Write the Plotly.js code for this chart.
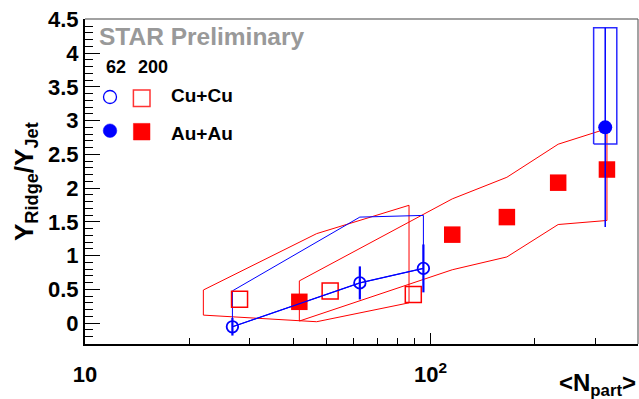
<!DOCTYPE html>
<html>
<head>
<meta charset="utf-8">
<script src="https://cdn.plot.ly/plotly-3.0.1.min.js"></script>
<style>html,body{margin:0;padding:0;background:#fff;}#chart{width:639px;height:399px;}</style>
</head>
<body>
<div id="chart"></div>
<script>
// ---- data ----
// Au+Au 200 GeV (filled red squares) with systematic band
const npartAuAu200 = [41.7, 115.5, 166.2, 233.9, 323.7];
const ratioAuAu200 = [0.315, 1.31, 1.57, 2.08, 2.275];
const sysHiAuAu200 = [0.625, 1.84, 2.16, 2.65, 2.88];
const sysLoAuAu200 = [0.03, 0.79, 0.98, 1.46, 1.52];

// Cu+Cu 200 GeV (open red squares) with systematic band
const npartCuCu200 = [28.0, 51.2, 89.1];
const ratioCuCu200 = [0.352, 0.475, 0.425];
const bandNpartCuCu200 = [22.0, 46.8, 86.6];
const sysHiCuCu200 = [0.49, 1.325, 1.745];
const sysLoCuCu200 = [0.118, 0.02, 0.30];

// Cu+Cu 62 GeV (open blue circles) with systematic band
const npartCuCu62 = [26.7, 62.4, 95.3];
const ratioCuCu62 = [-0.055, 0.595, 0.81];
const errCuCu62 = [0.13, 0.245, 0.355];
const sysHiCuCu62 = [0.477, 1.57, 1.595];

// Au+Au 62 GeV (filled blue circle) with systematic box
const npartAuAu62 = [320];
const ratioAuAu62 = [2.9];
const errAuAu62 = [1.475];
const sysLoAuAu62 = [2.654];
const sysHiAuAu62 = [4.377];

const xTickVals = [10, 100];
const xTickText = ['10', '10<sup>2</sup>'];
const xMinorVals = [20, 30, 40, 50, 60, 70, 80, 90, 200, 300];

// ---- helpers ----
function polygon(xs, hi, lo) {
  const x = xs.concat(xs.slice().reverse(), [xs[0]]);
  const y = hi.concat(lo.slice().reverse(), [hi[0]]);
  return {x, y};
}
const BOX_HALF_DEC = 0.0335; // box half-width in decades (style)

const RED = '#ff0000', BLUE = '#0000ff';
const FONT = 'Liberation Sans, Arial, Helvetica, sans-serif';

const pAuAu200 = polygon(npartAuAu200, sysHiAuAu200, sysLoAuAu200);
const pCuCu200 = polygon(bandNpartCuCu200, sysHiCuCu200, sysLoCuCu200);
const pCuCu62 = polygon(npartCuCu62, sysHiCuCu62, ratioCuCu62);

const boxX = [], boxY = [];
npartAuAu62.forEach((x, i) => {
  const xl = x * Math.pow(10, -BOX_HALF_DEC), xr = x * Math.pow(10, BOX_HALF_DEC);
  boxX.push(xl, xr, xr, xl, xl);
  boxY.push(sysLoAuAu62[i], sysLoAuAu62[i], sysHiAuAu62[i], sysHiAuAu62[i], sysLoAuAu62[i]);
});

const traces = [
  {x: pCuCu200.x, y: pCuCu200.y, mode: 'lines', line: {color: RED, width: 1}, hoverinfo: 'skip'},
  {x: pAuAu200.x, y: pAuAu200.y, mode: 'lines', line: {color: RED, width: 1}, hoverinfo: 'skip'},
  {x: pCuCu62.x, y: pCuCu62.y, mode: 'lines', line: {color: BLUE, width: 1}, hoverinfo: 'skip'},
  {x: boxX, y: boxY, mode: 'lines', line: {color: '#2a2aff', width: 1.5}, hoverinfo: 'skip'},
  {x: npartCuCu200, y: ratioCuCu200, mode: 'markers', name: 'Cu+Cu 200',
   marker: {symbol: 'square-open', size: 16, color: RED, line: {color: RED, width: 1.5}}},
  {x: npartAuAu200, y: ratioAuAu200, mode: 'markers', name: 'Au+Au 200',
   marker: {symbol: 'square', size: 16.5, color: RED, line: {width: 0}}},
  {x: npartCuCu62, y: ratioCuCu62, mode: 'lines+markers', name: 'Cu+Cu 62',
   line: {color: BLUE, width: 1.2},
   error_y: {type: 'data', array: errCuCu62, visible: true, color: BLUE, thickness: 2.2, width: 0},
   marker: {symbol: 'circle', size: 11.5, color: 'rgba(255,255,255,0)', line: {color: BLUE, width: 1.8}}},
  {x: npartAuAu62, y: ratioAuAu62, mode: 'markers', name: 'Au+Au 62',
   error_y: {type: 'data', array: errAuAu62, visible: true, color: BLUE, thickness: 1.5, width: 0},
   marker: {symbol: 'circle', size: 14, color: BLUE, line: {width: 0}}}
];

function pxX(px) { return (px - 85) / 553; }
function pxY(py) { return (344 - py) / 325; }

const bold = {family: FONT, weight: 'bold', color: '#000'};

const layout = {
  width: 639, height: 399,
  margin: {l: 85, r: 1, t: 19, b: 55},
  paper_bgcolor: '#fff', plot_bgcolor: '#fff',
  showlegend: false,
  xaxis: {
    type: 'log', range: [1, 2.6],
    tickmode: 'array', tickvals: xTickVals, ticktext: xTickText,
    ticks: 'inside', ticklen: 11, tickwidth: 1, tickcolor: '#000',
    showline: true, linecolor: '#000', linewidth: 2,
    showgrid: false, zeroline: false,
    tickfont: Object.assign({size: 22}, bold),
    ticklabelstandoff: 10,
    minor: {tickmode: 'array', tickvals: xMinorVals, ticks: 'inside', ticklen: 6, tickwidth: 1, tickcolor: '#000', showgrid: false}
  },
  yaxis: {
    range: [-0.31, 4.505], tick0: 0, dtick: 0.5,
    ticks: 'inside', ticklen: 15, tickwidth: 1, tickcolor: '#000',
    showline: true, linecolor: '#000', linewidth: 2,
    showgrid: false, zeroline: false,
    tickfont: Object.assign({size: 22}, bold),
    minor: {dtick: 0.1, ticks: 'inside', ticklen: 7.5, tickwidth: 1, tickcolor: '#000', showgrid: false}
  },
  shapes: [
    {type: 'line', xref: 'paper', yref: 'paper', x0: 0, x1: 1, y0: 1, y1: 1, line: {color: '#444', width: 1.2}},
    {type: 'line', xref: 'paper', yref: 'paper', x0: 1, x1: 1, y0: 0, y1: 1, line: {color: '#666', width: 1.2}},
    // legend symbols
    {type: 'circle', xref: 'paper', yref: 'paper', xsizemode: 'pixel', ysizemode: 'pixel',
     xanchor: pxX(110), yanchor: pxY(97), x0: -6.5, x1: 6.5, y0: -6.5, y1: 6.5,
     line: {color: BLUE, width: 1.3}},
    {type: 'rect', xref: 'paper', yref: 'paper', xsizemode: 'pixel', ysizemode: 'pixel',
     xanchor: pxX(141.7), yanchor: pxY(98.3), x0: -8.3, x1: 8.3, y0: -8.3, y1: 8.3,
     line: {color: '#ff3333', width: 1.5}},
    {type: 'circle', xref: 'paper', yref: 'paper', xsizemode: 'pixel', ysizemode: 'pixel',
     xanchor: pxX(110), yanchor: pxY(130.7), x0: -6.8, x1: 6.8, y0: -6.8, y1: 6.8,
     fillcolor: BLUE, line: {color: BLUE, width: 0.5}},
    {type: 'rect', xref: 'paper', yref: 'paper', xsizemode: 'pixel', ysizemode: 'pixel',
     xanchor: pxX(141.7), yanchor: pxY(131.7), x0: -8.3, x1: 8.3, y0: -8.3, y1: 8.3,
     fillcolor: RED, line: {color: RED, width: 0.5}}
  ],
  annotations: [
    {text: 'STAR Preliminary', xref: 'paper', yref: 'paper', x: pxX(97), y: pxY(37), xanchor: 'left', yanchor: 'middle',
     showarrow: false, font: {family: FONT, weight: 'bold', size: 24.5, color: '#999999'}},
    {text: '62', xref: 'paper', yref: 'paper', x: pxX(115.5), y: pxY(67), xanchor: 'center', yanchor: 'middle',
     showarrow: false, font: Object.assign({size: 18}, bold)},
    {text: '200', xref: 'paper', yref: 'paper', x: pxX(152.5), y: pxY(67), xanchor: 'center', yanchor: 'middle',
     showarrow: false, font: Object.assign({size: 18}, bold)},
    {text: 'Cu+Cu', xref: 'paper', yref: 'paper', x: pxX(169), y: pxY(95.5), xanchor: 'left', yanchor: 'middle',
     showarrow: false, font: Object.assign({size: 19}, bold)},
    {text: 'Au+Au', xref: 'paper', yref: 'paper', x: pxX(169), y: pxY(133), xanchor: 'left', yanchor: 'middle',
     showarrow: false, font: Object.assign({size: 19}, bold)},
    {text: 'Y<sub>Ridge</sub>/Y<sub>Jet</sub>', xref: 'paper', yref: 'paper', x: pxX(26), y: pxY(182),
     xanchor: 'center', yanchor: 'middle', textangle: -90, showarrow: false, font: Object.assign({size: 26}, bold)},
    {text: '<N<sub>part</sub>>', xref: 'paper', yref: 'paper', x: pxX(638), y: pxY(384),
     xanchor: 'right', yanchor: 'middle', showarrow: false, font: Object.assign({size: 24}, bold)}
  ]
};

Plotly.newPlot('chart', traces, layout, {staticPlot: true, displayModeBar: false});
</script>
</body>
</html>
